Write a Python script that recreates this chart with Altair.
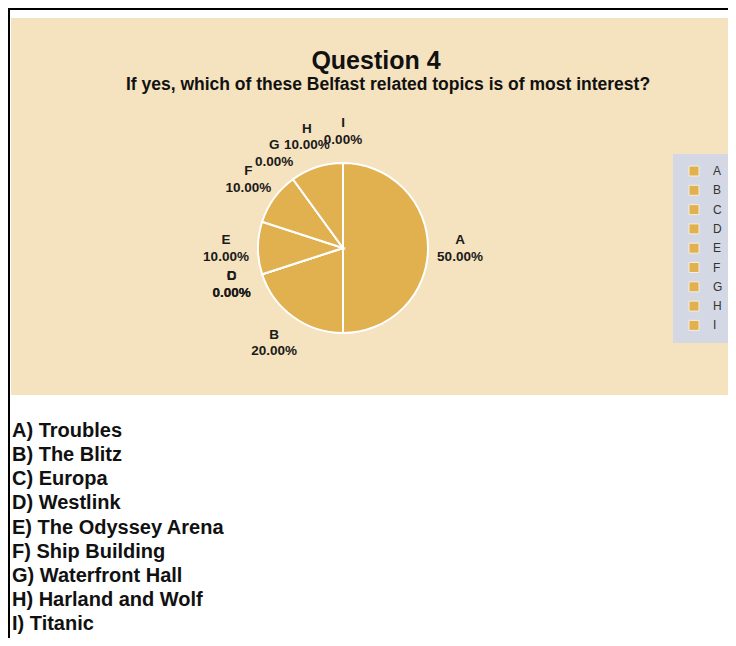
import altair as alt
import pandas as pd

# ---- data ----
categories = ["A", "B", "C", "D", "E", "F", "G", "H", "I"]
percents = [50, 20, 0, 0, 10, 10, 0, 10, 0]
topics = ["Troubles", "The Blitz", "Europa", "Westlink", "The Odyssey Arena",
          "Ship Building", "Waterfront Hall", "Harland and Wolf", "Titanic"]
title_text = ["Question 4"]
subtitle_text = ["If yes, which of these Belfast related topics is of most interest?"]

# ---- styling ----
FONT = "Liberation Sans"
PIE = "#E1B04F"
BEIGE = "#F5E2BE"
LEGBG = "#D4D8E4"
W, H = 720, 630
CX, CY = 335, 240

slices = pd.DataFrame({
    "cat": categories,
    "pct": percents,
    "order": list(range(len(categories))),
    "label": [f"{c}\n{p:.2f}%" for c, p in zip(categories, percents)],
})
listing = pd.DataFrame({"line": [f"{c}) {t}" for c, t in zip(categories, topics)]})
one = pd.DataFrame({"k": [0]})

frame_top = alt.Chart(one).mark_rule(color="black", strokeWidth=2).encode(
    x=alt.value(0), x2=alt.value(W), y=alt.value(1))
frame_left = alt.Chart(one).mark_rule(color="black", strokeWidth=2).encode(
    x=alt.value(1), y=alt.value(0), y2=alt.value(H))
bg = alt.Chart(one).mark_rect(color=BEIGE).encode(
    x=alt.value(3), x2=alt.value(W), y=alt.value(10), y2=alt.value(387))
legend_bg = alt.Chart(one).mark_rect(color=LEGBG).encode(
    x=alt.value(665), x2=alt.value(W), y=alt.value(146), y2=alt.value(335))

title = alt.Chart(pd.DataFrame({"t": title_text})).mark_text(
    font=FONT, fontSize=25, fontWeight="bold", color="#111", align="center",
    baseline="alphabetic").encode(x=alt.value(368), y=alt.value(61), text="t:N")
subtitle = alt.Chart(pd.DataFrame({"t": subtitle_text})).mark_text(
    font=FONT, fontSize=17.5, fontWeight="bold", color="#111", align="center",
    baseline="alphabetic").encode(x=alt.value(380), y=alt.value(82), text="t:N")

pie = alt.Chart(slices).mark_arc(outerRadius=85, stroke="white", strokeWidth=2).encode(
    theta=alt.Theta("pct:Q", stack=True),
    order=alt.Order("order:Q"),
    color=alt.Color("cat:N", scale=alt.Scale(domain=categories, range=[PIE] * 9),
                    legend=alt.Legend(title=None, orient="none", legendX=680, legendY=157,
                                      symbolType="square", symbolSize=100,
                                      symbolStrokeColor="#F6EEDB", symbolStrokeWidth=1,
                                      labelFont=FONT, labelFontSize=12, labelColor="#333",
                                      labelOffset=13, rowPadding=5.3, padding=0)),
    x=alt.value(CX), y=alt.value(CY),
)

labels = alt.Chart(slices).mark_text(
    radius=117, font=FONT, fontSize=13.5, fontWeight="bold", color="#1a1a1a",
    lineBreak="\n", lineHeight=16.5, align="center", baseline="middle", dy=-8).encode(
    theta=alt.Theta("pct:Q", stack=True),
    order=alt.Order("order:Q"),
    text="label:N",
    x=alt.value(CX), y=alt.value(CY),
)

text_list = alt.Chart(listing).mark_text(
    font=FONT, fontSize=20, fontWeight="bold", color="#111", align="left",
    baseline="middle").encode(
    x=alt.value(4),
    y=alt.Y("line:N", sort=None, axis=None,
            scale=alt.Scale(type="point", range=[423, 616], padding=0)),
    text="line:N",
)

chart = alt.layer(frame_top, frame_left, bg, legend_bg, title, subtitle, pie, labels,
                  text_list).properties(
    width=W, height=H, autosize="none", padding=0, background="white"
).configure_view(stroke=None)

chart.save("out.html", embed_options={"renderer": "svg", "actions": False})
